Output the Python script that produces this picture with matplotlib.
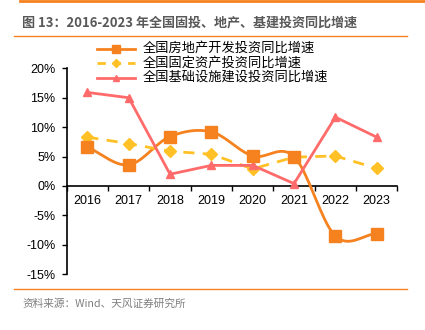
import matplotlib
matplotlib.use('Agg')
import matplotlib.pyplot as plt
import numpy as np
from matplotlib.lines import Line2D

plt.rcParams['font.family'] = ['Noto Sans CJK SC', 'DejaVu Sans']
plt.rcParams['axes.unicode_minus'] = False

# 数据
years = ['2016', '2017', '2018', '2019', '2020', '2021', '2022', '2023']
realestate = [6.6, 3.6, 8.4, 9.2, 5.1, 5.0, -8.5, -8.1]
fixed_asset = [8.3, 7.2, 5.9, 5.4, 2.9, 4.9, 5.1, 3.0]
infra = [15.9, 15.0, 2.0, 3.5, 3.5, 0.4, 11.7, 8.3]
yticks = [-15, -10, -5, 0, 5, 10, 15, 20]
labels = ['全国房地产开发投资同比增速', '全国固定资产投资同比增速',
          '全国基础设施建设投资同比增速']

c_orange = '#F5821F'
c_yellow = '#FFC125'
c_red = '#FF6B6B'

W, H = 425, 330


def smooth(x, y, n=20):
    # Catmull-Rom 平滑曲线（类似 Excel 平滑线）
    x = np.asarray(x, float)
    y = np.asarray(y, float)
    px = np.concatenate([[2 * x[0] - x[1]], x, [2 * x[-1] - x[-2]]])
    py = np.concatenate([[2 * y[0] - y[1]], y, [2 * y[-1] - y[-2]]])
    xs, ys = [], []
    t = np.linspace(0, 1, n)
    for i in range(1, len(px) - 2):
        for p, out in ((px, xs), (py, ys)):
            p0, p1, p2, p3 = p[i - 1], p[i], p[i + 1], p[i + 2]
            out.extend(0.5 * ((2 * p1) + (-p0 + p2) * t
                              + (2 * p0 - 5 * p1 + 4 * p2 - p3) * t ** 2
                              + (-p0 + 3 * p1 - 3 * p2 + p3) * t ** 3))
    return np.array(xs), np.array(ys)


fig = plt.figure(figsize=(4.25, 3.3), dpi=100)
ax = fig.add_axes([0.157, 0.169, 0.778, 0.624])

x = np.arange(len(years))
sx, sy = smooth(x, realestate)
ax.plot(sx, sy, color=c_orange, linewidth=2, zorder=3)
ax.plot(x, realestate, linestyle='none', marker='s', markersize=8,
        color=c_orange, zorder=4)
ax.plot(x, fixed_asset, color=c_yellow, linewidth=2, linestyle=(0, (4, 3)),
        marker='D', markersize=6, zorder=3)
ax.plot(x, infra, color=c_red, linewidth=2, marker='^', markersize=6, zorder=3)

ax.set_xlim(-0.5, len(years) - 0.5)
ax.set_ylim(-15, 20)
ax.set_yticks(yticks)
ax.set_yticklabels([f'{v}%' for v in yticks], fontsize=9)
ax.set_xticks(np.arange(-0.5, len(years), 1))
ax.set_xticklabels([])
for i, yr in enumerate(years):
    ax.text(i, -1.6, yr, ha='center', va='top', fontsize=9,
            family=['Liberation Sans', 'DejaVu Sans'])
for lbl in ax.get_yticklabels():
    lbl.set_family(['Liberation Sans', 'DejaVu Sans'])

ax.spines['top'].set_visible(False)
ax.spines['right'].set_visible(False)
ax.spines['bottom'].set_position(('data', 0))
ax.spines['left'].set_linewidth(1.2)
ax.spines['bottom'].set_linewidth(1.2)
ax.tick_params(axis='both', direction='out', length=3.6, width=1, pad=4.5)

# 图例（手动排布）
styles = [
    (c_orange, '-', 's', 6),
    (c_yellow, (0, (3, 2.5)), 'D', 4),
    (c_red, '-', '^', 4),
]
rows = [48.5, 63, 77.5]
for yy, (col, ls, mk, ms), lab in zip(rows, styles, labels):
    fy = 1 - yy / H
    fig.add_artist(Line2D([97 / W, 135 / W], [fy, fy], color=col, linewidth=2,
                          linestyle=ls, zorder=5))
    fig.add_artist(Line2D([116 / W], [fy], color=col, marker=mk,
                          markersize=ms, linestyle='none', zorder=6))
    fig.text(143 / W, fy, lab, fontsize=9.5, va='center', ha='left', zorder=5)

# 标题与装饰线
fig.add_artist(Line2D([20 / W, 1], [1 - 1 / H, 1 - 1 / H],
                      color=c_orange, linewidth=2))
fig.text(22 / W, 1 - 23 / H, '图 13：2016-2023 年全国固投、地产、基建投资同比增速',
         fontsize=9.4, fontweight='bold', color='#595959', va='center')
fig.add_artist(Line2D([14 / W, 407 / W], [1 - 36 / H, 1 - 36 / H],
                      color=c_orange, linewidth=1))
fig.add_artist(Line2D([14 / W, 407 / W], [1 - 289 / H, 1 - 289 / H],
                      color=c_orange, linewidth=1))
fig.text(22 / W, 1 - 304 / H, '资料来源：Wind、天风证券研究所',
         fontsize=7.7, color='#7F7F7F', va='center')

fig.savefig('out.png', dpi=100)
